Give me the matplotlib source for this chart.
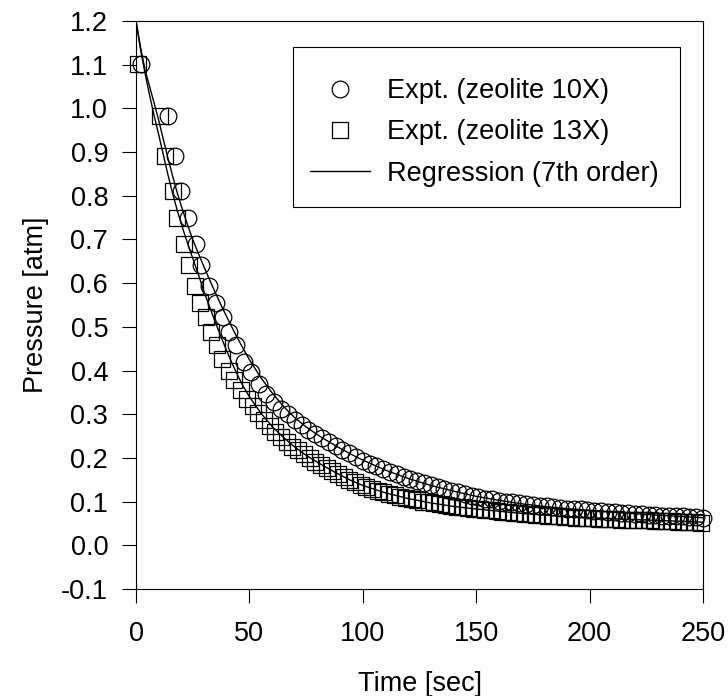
import matplotlib
matplotlib.use("Agg")
import matplotlib.pyplot as plt
from matplotlib.patches import Rectangle

plt.rcParams['font.family'] = ['Liberation Sans', 'DejaVu Sans']
plt.rcParams['axes.unicode_minus'] = False

# ---- data ----
t_10x = [2.1, 14.2, 17.1, 20.0, 22.9, 26.3, 28.8, 32.1, 35.1, 38.3, 41.2, 44.2, 47.8, 50.7,
         54.4, 57.3, 61.0, 64, 67, 70, 73, 76, 79, 82, 85, 88, 91, 94, 97, 100, 103, 106,
         109, 112, 115, 118, 121, 124, 127, 130, 133, 136, 139, 142, 145, 148, 151, 154,
         157, 160, 163, 166, 169, 172, 175, 178, 181, 184, 187, 190, 193, 196, 199, 202,
         205, 208, 211, 214, 217, 220, 223, 226, 229, 232, 235, 238, 241, 244, 247, 250]
p_10x = [1.102, 0.982, 0.891, 0.810, 0.748, 0.690, 0.641, 0.593, 0.554, 0.522, 0.488, 0.458,
         0.419, 0.397, 0.370, 0.347, 0.328, 0.313, 0.300, 0.287, 0.276, 0.265, 0.255, 0.246,
         0.237, 0.228, 0.219, 0.211, 0.202, 0.194, 0.187, 0.181, 0.174, 0.168, 0.163, 0.157,
         0.151, 0.147, 0.142, 0.137, 0.133, 0.129, 0.124, 0.121, 0.117, 0.113, 0.110, 0.107,
         0.105, 0.102, 0.100, 0.098, 0.096, 0.094, 0.092, 0.090, 0.089, 0.087, 0.086, 0.084,
         0.083, 0.082, 0.080, 0.079, 0.078, 0.077, 0.076, 0.074, 0.073, 0.072, 0.071, 0.070,
         0.069, 0.068, 0.067, 0.066, 0.066, 0.065, 0.064, 0.063]

t_13x = [0.9, 10.5, 13.0, 16.4, 17.9, 21.1, 23.4, 25.9, 28.4, 30.7, 33.2, 35.7, 38.0, 40.8,
         43.4, 46.4, 49.0, 51.5, 54.0, 56.5, 59.0, 61.5, 64.0, 66.5, 69.0, 71.5, 74.0, 76.5,
         79.0, 81.5, 84.0, 86.5, 89.0, 91.5, 94.0, 96.5, 99.0, 101.5, 104.0, 106.5, 109.0,
         111.5, 114.0, 116.5, 119.0, 121.5, 124.0, 126.5, 129.0, 131.5, 134.0, 136.5, 139.0,
         141.5, 144.0, 146.5, 149.0, 151.5, 154.0, 156.5, 159.0, 161.5, 164.0, 166.5, 169.0,
         171.5, 174.0, 176.5, 179.0, 181.5, 184.0, 186.5, 189.0, 191.5, 194.0, 196.5, 199.0,
         201.5, 204.0, 206.5, 209.0, 211.5, 214.0, 216.5, 219.0, 221.5, 224.0, 226.5, 229.0,
         231.5, 234.0, 236.5, 239.0, 241.5, 244.0, 246.5, 249.0]
p_13x = [1.102, 0.982, 0.891, 0.810, 0.748, 0.690, 0.641, 0.593, 0.554, 0.522, 0.488, 0.458,
         0.427, 0.400, 0.378, 0.355, 0.335, 0.318, 0.302, 0.287, 0.273, 0.260, 0.248, 0.237,
         0.226, 0.217, 0.208, 0.199, 0.191, 0.184, 0.176, 0.169, 0.163, 0.156, 0.150, 0.144,
         0.138, 0.133, 0.129, 0.125, 0.121, 0.117, 0.114, 0.111, 0.108, 0.106, 0.103, 0.100,
         0.098, 0.096, 0.094, 0.092, 0.090, 0.088, 0.087, 0.085, 0.084, 0.082, 0.081, 0.080,
         0.078, 0.077, 0.076, 0.075, 0.074, 0.072, 0.071, 0.070, 0.069, 0.068, 0.067, 0.066,
         0.065, 0.064, 0.063, 0.063, 0.062, 0.062, 0.061, 0.061, 0.060, 0.060, 0.059, 0.059,
         0.058, 0.058, 0.057, 0.057, 0.056, 0.056, 0.055, 0.055, 0.054, 0.054, 0.053, 0.053,
         0.052]

# regression curves (7th order fits)
reg_t_10x = [0, 2, 4, 6, 8, 10, 12, 14, 16, 18, 20, 22.5, 25, 27.5, 30, 32.5, 35, 37.5, 40,
             42.5, 45, 47.5, 50, 55, 60, 65, 70, 75, 80, 85, 90, 95, 100, 110, 120, 130,
             140, 150, 160, 170, 180, 190, 200, 215, 230, 250]
reg_p_10x = [1.200, 1.140, 1.088, 1.050, 1.012, 0.973, 0.930, 0.888, 0.848, 0.810, 0.776,
             0.737, 0.700, 0.668, 0.637, 0.607, 0.578, 0.550, 0.523, 0.497, 0.472, 0.448,
             0.425, 0.384, 0.349, 0.318, 0.292, 0.271, 0.253, 0.237, 0.222, 0.208, 0.195,
             0.172, 0.153, 0.137, 0.124, 0.112, 0.103, 0.095, 0.089, 0.084, 0.080, 0.074,
             0.069, 0.063]
reg_t_13x = [0, 2, 4, 6, 8, 10, 12, 14, 16, 18, 20, 22.5, 25, 27.5, 30, 32.5, 35, 37.5, 40,
             42.5, 45, 47.5, 50, 55, 60, 65, 70, 75, 80, 85, 90, 95, 100, 110, 120, 130,
             140, 150, 160, 170, 180, 190, 200, 215, 230, 250]
reg_p_13x = [1.200, 1.135, 1.080, 1.030, 0.983, 0.940, 0.895, 0.850, 0.808, 0.770, 0.735,
             0.695, 0.657, 0.620, 0.580, 0.545, 0.510, 0.477, 0.445, 0.415, 0.387, 0.362,
             0.340, 0.303, 0.272, 0.247, 0.225, 0.206, 0.190, 0.175, 0.161, 0.148, 0.137,
             0.120, 0.107, 0.097, 0.089, 0.083, 0.078, 0.073, 0.069, 0.066, 0.063, 0.060,
             0.057, 0.053]

x_ticks = [0, 50, 100, 150, 200, 250]
y_ticks = [-0.1, 0.0, 0.1, 0.2, 0.3, 0.4, 0.5, 0.6, 0.7, 0.8, 0.9, 1.0, 1.1, 1.2]

labels = ["Expt. (zeolite 10X)", "Expt. (zeolite 13X)", "Regression (7th order)"]

# ---- figure ----
W, H = 728, 696
fig = plt.figure(figsize=(W / 100, H / 100), dpi=100)
ax = fig.add_axes([136 / W, 1 - 589 / H, (703 - 136) / W, (589 - 21) / H])

FS = 19.5
mk = dict(linestyle='none', markerfacecolor='none', markeredgecolor='black',
          markeredgewidth=0.9, clip_on=False)
h1, = ax.plot(t_10x, p_10x, marker='o', markersize=12, zorder=3, **mk)
h2, = ax.plot(t_13x, p_13x, marker='s', markersize=11.5, zorder=3, **mk)
h3, = ax.plot(reg_t_10x, reg_p_10x, color='black', lw=1.0, zorder=4)
ax.plot(reg_t_13x, reg_p_13x, color='black', lw=1.0, zorder=4)

ax.set_xlim(0, 250)
ax.set_ylim(-0.1, 1.2)
ax.set_xticks(x_ticks)
ax.set_xticklabels([str(v) for v in x_ticks])
ax.set_yticks(y_ticks)
ax.set_yticklabels(["%.1f" % v for v in y_ticks])
ax.tick_params(axis='both', direction='out', length=10, width=0.8, labelsize=FS,
               top=False, right=False, color='black')
ax.tick_params(axis='x', pad=13)
ax.tick_params(axis='y', pad=10)
for s in ax.spines.values():
    s.set_linewidth(0.8)
    s.set_color('black')

ax.set_xlabel("Time [sec]", fontsize=FS, labelpad=17)
ax.set_ylabel("Pressure [atm]", fontsize=FS, labelpad=9)

# legend box (fixed frame as in the reference)
x0 = (293 - 136) / 567
x1 = (680 - 136) / 567
y0 = (589 - 207) / 568
y1 = (589 - 47) / 568
ax.add_patch(Rectangle((x0, y0), x1 - x0, y1 - y0, transform=ax.transAxes,
                       facecolor='white', edgecolor='black', lw=0.8, zorder=5))
leg = ax.legend([h1, h2, h3], labels, loc='upper left',
                bbox_to_anchor=((310 - 136) / 567, (589 - 78) / 568),
                frameon=False, fontsize=FS, handlelength=2.2, handletextpad=0.65,
                labelspacing=0.57, borderpad=0, borderaxespad=0)
leg.set_zorder(6)

fig.savefig("out.png", dpi=100)
